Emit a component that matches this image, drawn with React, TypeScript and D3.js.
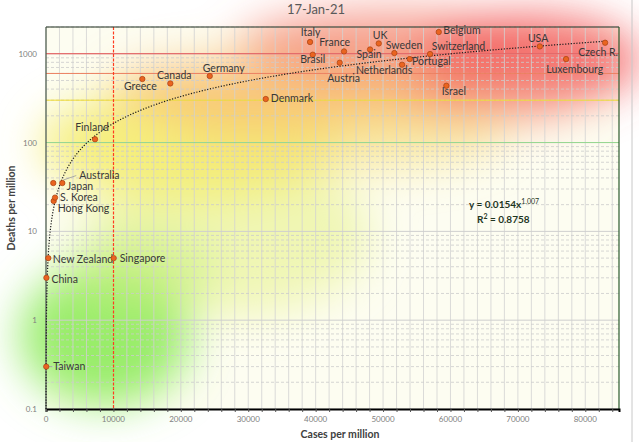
import { useEffect, useRef } from 'react'
import * as d3 from 'd3'

const title = '17-Jan-21'
const countries = ['Taiwan', 'China', 'New Zealand', 'Hong Kong', 'S. Korea', 'Australia', 'Japan', 'Finland', 'Singapore', 'Greece', 'Canada', 'Germany', 'Denmark', 'Italy', 'Brasil', 'Austria', 'France', 'Spain', 'UK', 'Sweden', 'Netherlands', 'Portugal', 'Switzerland', 'Belgium', 'Israel', 'USA', 'Luxembourg', 'Czech R.']
const cases = [36, 60, 340, 1140, 1340, 1080, 2420, 7270, 10040, 14290, 18440, 24290, 32600, 39170, 39570, 43570, 44210, 48070, 49360, 51680, 52820, 53960, 56970, 58260, 59390, 73250, 77150, 82940]
const deaths = [0.3, 3, 5, 22, 24, 35, 35, 109, 5, 519, 463, 561, 309, 1355, 975, 792, 1062, 1117, 1306, 1018, 752, 871, 992, 1755, 436, 1209, 871, 1330]
const xTicks = [0, 10000, 20000, 30000, 40000, 50000, 60000, 70000, 80000]
const yTicks = [0.1, 1, 10, 100, 1000]
const fitA = 0.0154, fitB = 1.007, fitR2 = '0.8758'
const deathLines = [100, 300, 600, 1000]
const caseLine = 10000

// label placement relative to the point: [dx, dy, anchor]
const labelPos: Record<string, [number, number, string]> = {
  'Taiwan': [7, 3, 'start'], 'China': [5, 5, 'start'], 'New Zealand': [4.5, 4.5, 'start'],
  'Hong Kong': [4, 11, 'start'], 'S. Korea': [5, 3, 'start'], 'Australia': [26, -4, 'start'],
  'Japan': [4.5, 7, 'start'], 'Finland': [-3, -8, 'middle'], 'Singapore': [6, 4, 'start'],
  'Greece': [-2, 11, 'middle'], 'Canada': [4, -4, 'middle'], 'Germany': [14, -4, 'middle'],
  'Denmark': [5, 3, 'start'], 'Italy': [0.5, -6, 'middle'], 'Brasil': [0, 8.5, 'middle'],
  'Austria': [4, 19, 'middle'], 'France': [-9.3, -5.7, 'middle'], 'Spain': [-1, 9, 'middle'],
  'UK': [1.3, -4.4, 'middle'], 'Sweden': [9.7, -3.6, 'middle'], 'Netherlands': [-18, 9.7, 'middle'],
  'Portugal': [2.3, 6.4, 'start'], 'Switzerland': [1.7, -4.3, 'start'], 'Belgium': [4.6, 2.4, 'start'],
  'Israel': [7.5, 9.7, 'middle'], 'USA': [-1.7, -4.4, 'middle'], 'Luxembourg': [8.7, 14, 'middle'],
  'Czech R.': [-7, 13, 'middle'],
}
const deathLineColors = ['#96d890', '#f0dc30', '#ec8060', '#e85050']

export default function App() {
  const ref = useRef<SVGSVGElement>(null)

  useEffect(() => {
    const W = 639, H = 442
    const m = { l: 46, r: 619, t: 27, b: 409 }
    const svg = d3.select(ref.current!)
    svg.selectAll('*').remove()
    svg.attr('width', W).attr('height', H)
    const font = 'Lato, "Open Sans", sans-serif'

    const x = d3.scaleLinear().domain([0, 85000]).range([m.l, m.r])
    const y = d3.scaleLog().domain([0.1, 2000]).range([m.b, m.t])

    svg.append('rect').attr('width', W).attr('height', H).attr('fill', '#fff')
    svg.append('rect').attr('x', m.l).attr('y', m.t).attr('width', m.r - m.l).attr('height', m.b - m.t).attr('fill', '#fdfdf1')

    // soft colour glows, blurred
    const defs = svg.append('defs')
    const f = defs.append('filter').attr('id', 'soft').attr('x', '-50%').attr('y', '-50%').attr('width', '200%').attr('height', '200%')
    f.append('feGaussianBlur').attr('stdDeviation', 22)
    const glow = svg.append('g').attr('filter', 'url(#soft)')
    const blobs = [
      { cx: 230, cy: 235, rx: 140, ry: 80, c: '#eaf39a', o: 0.7 },
      { cx: 190, cy: 145, rx: 150, ry: 55, c: '#f5ec6a', o: 0.85 },
      { cx: 340, cy: 130, rx: 170, ry: 40, c: '#f6e07a', o: 0.65 },
      { cx: 300, cy: 90, rx: 190, ry: 35, c: '#f8b868', o: 0.75 },
      { cx: 105, cy: 335, rx: 85, ry: 70, c: '#86ea52', o: 0.85 },
      { cx: 140, cy: 270, rx: 75, ry: 40, c: '#c8f080', o: 0.6 },
      { cx: 390, cy: 45, rx: 150, ry: 35, c: '#f47a6a', o: 0.7 },
      { cx: 530, cy: 60, rx: 110, ry: 45, c: '#f25a5a', o: 0.85 },
      { cx: 490, cy: 100, rx: 90, ry: 25, c: '#f59a80', o: 0.6 },
    ]
    blobs.forEach(b => {
      glow.append('ellipse').attr('cx', b.cx).attr('cy', b.cy).attr('rx', b.rx).attr('ry', b.ry)
        .attr('fill', b.c).attr('fill-opacity', b.o)
    })

    // grid
    const grid = svg.append('g')
    d3.range(0, 85001, 2000).filter(v => v !== caseLine).forEach(v => {
      grid.append('line').attr('x1', x(v)).attr('x2', x(v)).attr('y1', m.t).attr('y2', m.b)
        .attr('stroke', '#d2d2d2').attr('stroke-width', 0.8)
    })
    yTicks.forEach(t => {
      d3.range(2, 10).forEach(k => {
        const v = t * k
        if (v > 2000) return
        grid.append('line').attr('x1', m.l).attr('x2', m.r).attr('y1', y(v)).attr('y2', y(v))
          .attr('stroke', '#cccccc').attr('stroke-width', 0.8).attr('stroke-dasharray', '3,2')
      })
      grid.append('line').attr('x1', m.l).attr('x2', m.r).attr('y1', y(t)).attr('y2', y(t))
        .attr('stroke', '#cfcfcf').attr('stroke-width', 1)
    })
    deathLines.forEach((v, i) => {
      svg.append('line').attr('x1', m.l).attr('x2', m.r).attr('y1', y(v)).attr('y2', y(v))
        .attr('stroke', deathLineColors[i]).attr('stroke-width', 1)
    })
    const cx = Math.round(x(caseLine)) + 0.5
    svg.append('line').attr('x1', cx).attr('x2', cx).attr('y1', m.t).attr('y2', m.b)
      .attr('stroke', '#ff3c20').attr('stroke-width', 1.2).attr('stroke-dasharray', '3,1.5')

    // frame and axes
    svg.append('line').attr('x1', m.l).attr('x2', m.r).attr('y1', m.t).attr('y2', m.t).attr('stroke', '#203020').attr('stroke-width', 1.2)
    svg.append('line').attr('x1', m.r).attr('x2', m.r).attr('y1', m.t).attr('y2', m.b).attr('stroke', '#2a5a2a').attr('stroke-width', 1.2)
    svg.append('line').attr('x1', m.l).attr('x2', m.l).attr('y1', m.t).attr('y2', m.b).attr('stroke', '#4a5a4a').attr('stroke-width', 1.2)
    const xAxis = svg.append('g').attr('transform', `translate(0,${m.b})`)
      .call(d3.axisBottom(x).tickValues(d3.range(0, 85001, 2000)).tickSize(3).tickFormat(() => ''))
    xAxis.select('.domain').attr('stroke', '#000').attr('stroke-width', 2)
    xAxis.selectAll('.tick line').attr('stroke', '#555')
    svg.append('g').selectAll('text').data(xTicks).join('text')
      .attr('x', d => x(d)).attr('y', 422).attr('text-anchor', 'middle')
      .attr('font-family', font).attr('font-size', 8).attr('fill', '#808080').text(d => String(d))
    svg.append('g').selectAll('text').data(yTicks).join('text')
      .attr('x', 37).attr('y', d => y(d) + 3).attr('text-anchor', 'end')
      .attr('font-family', font).attr('font-size', 8).attr('fill', '#808080').text(d => String(d))

    // trend line y = a x^b
    const xs = d3.range(Math.log10(6.4), Math.log10(83000), 0.01).map(l => Math.pow(10, l)).concat([83000])
    const line = d3.line<number>().x(v => x(v)).y(v => y(fitA * Math.pow(v, fitB)))
    svg.append('path').datum(xs).attr('d', line).attr('fill', 'none')
      .attr('stroke', '#1a1a1a').attr('stroke-width', 1.2).attr('stroke-dasharray', '1.2,1.6')

    // leader lines
    const iA = countries.indexOf('Australia')
    const [adx, ady] = labelPos['Australia']
    svg.append('line').attr('x1', x(cases[iA]) + adx - 3).attr('y1', y(deaths[iA]) + ady - 3.5)
      .attr('x2', x(cases[iA]) + 10).attr('y2', y(deaths[iA]) - 3).attr('stroke', '#9a9a9a').attr('stroke-width', 0.8)
    const iT = countries.indexOf('Taiwan')
    svg.append('line').attr('x1', x(cases[iT]) + 2).attr('x2', x(cases[iT]) + 6).attr('y1', y(deaths[iT])).attr('y2', y(deaths[iT]))
      .attr('stroke', '#9a9a9a').attr('stroke-width', 0.8)

    // points and labels
    countries.forEach((c, i) => {
      const px = x(cases[i]), py = y(deaths[i])
      svg.append('circle').attr('cx', px).attr('cy', py).attr('r', 2.7)
        .attr('fill', '#ea6420').attr('stroke', '#a84212').attr('stroke-width', 0.7)
      const [dx, dy, anchor] = labelPos[c]
      svg.append('text').attr('x', px + dx).attr('y', py + dy).attr('text-anchor', anchor)
        .attr('font-family', font).attr('font-size', 10.5).attr('fill', '#383838').text(c)
    })

    // equation
    const eq = svg.append('text').attr('x', 469).attr('y', 207.5).attr('font-family', font)
      .attr('font-size', 10).attr('font-weight', 'bold').attr('fill', '#1f361f')
    eq.append('tspan').text(`y = ${fitA}x`)
    eq.append('tspan').attr('dy', -4).attr('font-size', 7).attr('font-weight', 'normal').text(String(fitB))
    const r2 = svg.append('text').attr('x', 477).attr('y', 222.5).attr('font-family', font)
      .attr('font-size', 10).attr('font-weight', 'bold').attr('fill', '#1f361f')
    r2.append('tspan').text('R')
    r2.append('tspan').attr('dy', -4).attr('font-size', 7).text('2')
    r2.append('tspan').attr('dy', 4).text(` = ${fitR2}`)

    // titles
    svg.append('text').attr('x', 316).attr('y', 14).attr('text-anchor', 'middle').attr('font-family', font)
      .attr('font-size', 13).attr('fill', '#595959').text(title)
    svg.append('text').attr('x', 340).attr('y', 438).attr('text-anchor', 'middle').attr('font-family', font)
      .attr('font-size', 10.5).attr('font-weight', 'bold').attr('fill', '#404040').text('Cases per million')
    svg.append('text').attr('transform', 'translate(15,208) rotate(-90)').attr('text-anchor', 'middle').attr('font-family', font)
      .attr('font-size', 10.5).attr('font-weight', 'bold').attr('fill', '#404040').text('Deaths per million')

    // outer frame edge
    svg.append('line').attr('x1', 632).attr('x2', 632).attr('y1', 0).attr('y2', H).attr('stroke', '#c8c8c8').attr('stroke-width', 1)
  }, [])

  return (
    <div style={{ position: 'absolute', left: 0, top: 0 }}>
      <svg ref={ref} style={{ display: 'block' }} />
    </div>
  )
}
